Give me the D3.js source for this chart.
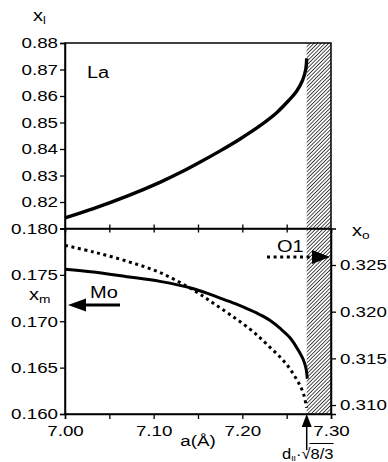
<!DOCTYPE html>
<html>
<head>
<meta charset="utf-8">
<script src="https://cdn.jsdelivr.net/npm/d3@7"></script>
<style>
  html, body { margin: 0; padding: 0; background: #fff; }
  svg { display: block; }
  text { font-family: "Liberation Sans", Arial, sans-serif; fill: #000; }
</style>
</head>
<body>
<svg id="chart" width="388" height="462"></svg>
<script>
(function () {
  'use strict';

  // lattice constant a (Å) and La coordinate x_l (top panel)
  var aLa = [7.000, 7.032, 7.070, 7.107, 7.130, 7.152, 7.175, 7.197, 7.220, 7.239, 7.252, 7.261, 7.268, 7.2715, 7.2726];
  var xLa = [0.8140, 0.8175, 0.8222, 0.8274, 0.8311, 0.8350, 0.8393, 0.8437, 0.8488, 0.8538, 0.8582, 0.8617, 0.8660, 0.8700, 0.8742];

  // Mo coordinate x_m (bottom panel, left axis)
  var aMo = [7.000, 7.032, 7.070, 7.107, 7.145, 7.175, 7.192, 7.209, 7.220, 7.231, 7.243, 7.254, 7.263, 7.269, 7.2718, 7.2733];
  var xMo = [0.1756, 0.1753, 0.1748, 0.1743, 0.1735, 0.1725, 0.1719, 0.1712, 0.1707, 0.1701, 0.1692, 0.1682, 0.1669, 0.1658, 0.1649, 0.1638];

  // O1 coordinate x_o (bottom panel, right axis)
  var aO1 = [7.000, 7.032, 7.070, 7.107, 7.145, 7.169, 7.192, 7.209, 7.220, 7.231, 7.243, 7.252, 7.259, 7.265, 7.269, 7.2726];
  var xO1 = [0.3271, 0.3264, 0.3254, 0.3242, 0.3223, 0.3208, 0.3193, 0.3181, 0.3172, 0.3162, 0.3151, 0.3141, 0.3131, 0.3121, 0.3112, 0.3097];

  var aLimit = 7.2726; // d_II·√(8/3)

  var xTicks = [7.00, 7.05, 7.10, 7.15, 7.20, 7.25, 7.30];
  var laTicks = [0.82, 0.83, 0.84, 0.85, 0.86, 0.87, 0.88];
  var moTicks = [0.160, 0.165, 0.170, 0.175, 0.180];
  var oTicks = [0.310, 0.315, 0.320, 0.325];

  var L = 65, R = 331, T = 43, MID = 228.5, B = 414;
  var SX = 1.25; // the original lettering is horizontally stretched

  var x = d3.scaleLinear().domain([7.0, 7.3]).range([L, R]);
  var yLa = d3.scaleLinear().domain([0.81, 0.88]).range([MID, T]);
  var yMo = d3.scaleLinear().domain([0.160, 0.180]).range([B, MID]);
  var yO = d3.scaleLinear().domain([0.30904, 0.32891]).range([B, MID]);

  var svg = d3.select('#chart');

  function zip(a, b) { return a.map(function (v, i) { return [v, b[i]]; }); }

  function stretchTicks(g, dx) {
    g.selectAll('.tick text')
      .attr('font-size', 15)
      .attr('font-family', '"Liberation Sans", Arial, sans-serif')
      .attr('transform', 'scale(' + SX + ',1)')
      .attr('x', dx / SX);
  }

  function label(px, py, str, size, anchor) {
    return svg.append('text')
      .attr('transform', 'translate(' + px + ',' + py + ') scale(' + SX + ',1)')
      .attr('font-size', size)
      .attr('text-anchor', anchor || 'start')
      .text(str);
  }

  // hatch pattern for the forbidden region
  var defs = svg.append('defs');
  var pat = defs.append('pattern')
    .attr('id', 'hatch')
    .attr('patternUnits', 'userSpaceOnUse')
    .attr('width', 2.6).attr('height', 2.6)
    .attr('patternTransform', 'rotate(45)');
  pat.append('rect').attr('width', 2.6).attr('height', 2.6).attr('fill', '#fff');
  pat.append('line').attr('x1', 0).attr('y1', 0).attr('x2', 0).attr('y2', 2.6)
    .attr('stroke', '#111').attr('stroke-width', 1.5);

  svg.append('rect')
    .attr('x', x(aLimit)).attr('y', T)
    .attr('width', x(7.3) - x(aLimit)).attr('height', B - T)
    .attr('fill', 'url(#hatch)');

  // ── Curves ──────────────────────────────────────────────────────────────────

  var curve = d3.curveCatmullRom.alpha(0.5);
  var lineLa = d3.line().curve(curve).x(function (d) { return x(d[0]); }).y(function (d) { return yLa(d[1]); });
  var lineMo = d3.line().curve(curve).x(function (d) { return x(d[0]); }).y(function (d) { return yMo(d[1]); });
  var lineO = d3.line().curve(curve).x(function (d) { return x(d[0]); }).y(function (d) { return yO(d[1]); });

  svg.append('path').datum(zip(aLa, xLa)).attr('d', lineLa)
    .attr('fill', 'none').attr('stroke', '#000').attr('stroke-width', 3.4);
  svg.append('path').datum(zip(aMo, xMo)).attr('d', lineMo)
    .attr('fill', 'none').attr('stroke', '#000').attr('stroke-width', 3);
  svg.append('path').datum(zip(aO1, xO1)).attr('d', lineO)
    .attr('fill', 'none').attr('stroke', '#000').attr('stroke-width', 3)
    .attr('stroke-dasharray', '3,3.6');

  // ── Frame & axes ────────────────────────────────────────────────────────────

  svg.append('rect')
    .attr('x', L).attr('y', T).attr('width', R - L).attr('height', B - T)
    .attr('fill', 'none').attr('stroke', '#000').attr('stroke-width', 1.5);
  svg.append('line').attr('x1', L).attr('x2', R).attr('y1', MID).attr('y2', MID)
    .attr('stroke', '#000').attr('stroke-width', 1.5);

  var gLa = svg.append('g').attr('transform', 'translate(' + L + ',0)')
    .call(d3.axisLeft(yLa).tickValues(laTicks).tickFormat(d3.format('.2f')).tickSize(5).tickPadding(2));
  stretchTicks(gLa, -7);

  var gMo = svg.append('g').attr('transform', 'translate(' + L + ',0)')
    .call(d3.axisLeft(yMo).tickValues(moTicks).tickFormat(d3.format('.3f')).tickSize(5).tickPadding(2));
  stretchTicks(gMo, -7);

  var gO = svg.append('g').attr('transform', 'translate(' + R + ',0)')
    .call(d3.axisRight(yO).tickValues(oTicks).tickFormat(d3.format('.3f')).tickSize(5).tickPadding(4));
  stretchTicks(gO, 9);

  var gX = svg.append('g').attr('transform', 'translate(0,' + B + ')')
    .call(d3.axisBottom(x).tickValues(xTicks).tickSize(5).tickPadding(3)
      .tickFormat(function (d) { return Math.round(d * 100) % 10 === 0 ? d3.format('.2f')(d) : ''; }));
  stretchTicks(gX, 0);
  gX.selectAll('.tick text').attr('dy', '0.95em');

  var gMid = svg.append('g').attr('transform', 'translate(0,' + MID + ')')
    .call(d3.axisBottom(x).tickValues(xTicks.slice(1, -1)).tickSize(4).tickFormat(''));
  gMid.selectAll('.tick line').attr('y1', -4);

  svg.selectAll('.domain').attr('stroke-width', 1.5);
  svg.selectAll('.tick line').attr('stroke-width', 1.3);

  // ── Labels & arrows ─────────────────────────────────────────────────────────

  var xl = label(33, 21, 'x', 16);
  xl.append('tspan').attr('font-size', 10).attr('dy', 3).text('l');

  var xm = label(29, 300, 'x', 16);
  xm.append('tspan').attr('font-size', 11).attr('dy', 3).text('m');

  var xo = label(352, 236, 'x', 16);
  xo.append('tspan').attr('font-size', 11).attr('dy', 3).text('o');

  label(87, 78, 'La', 16);
  label(90, 298, 'Mo', 16);
  label(277, 252, 'O1', 16);
  label(198, 446, 'a(Å)', 15, 'middle');

  // Mo arrow (points to the left axis)
  svg.append('line').attr('x1', 120).attr('x2', 82).attr('y1', 305).attr('y2', 305)
    .attr('stroke', '#000').attr('stroke-width', 3.2);
  svg.append('path').attr('d', 'M68,305 L86,298.5 L86,311.5 Z').attr('fill', '#000');

  // O1 arrow (points to the right axis)
  svg.append('line').attr('x1', 267).attr('x2', 313).attr('y1', 257).attr('y2', 257)
    .attr('stroke', '#000').attr('stroke-width', 3).attr('stroke-dasharray', '3,3.6');
  svg.append('path').attr('d', 'M330,257 L312,250 L312,264 Z').attr('fill', '#000');

  // limit arrow below the axis
  var xa = x(aLimit);
  svg.append('line').attr('x1', xa).attr('x2', xa).attr('y1', 425).attr('y2', 450)
    .attr('stroke', '#000').attr('stroke-width', 1.5);
  svg.append('path').attr('d', 'M' + xa + ',414 L' + (xa - 5) + ',427 L' + (xa + 5) + ',427 Z')
    .attr('fill', '#000');

  var dl = svg.append('text')
    .attr('transform', 'translate(282,459) scale(1.1,1)')
    .attr('font-size', 15);
  dl.append('tspan').text('d');
  dl.append('tspan').attr('font-size', 8).attr('dy', 2).text('II');
  dl.append('tspan').attr('dy', -2).text('·√');
  dl.append('tspan').text('8/3');
  var n = dl.node();
  var chars = n.getNumberOfChars();
  var x0 = n.getStartPositionOfChar(chars - 3).x;
  var x1 = n.getEndPositionOfChar(chars - 1).x;
  svg.append('line')
    .attr('x1', 282 + (x0 - 1) * 1.1).attr('x2', 282 + x1 * 1.1)
    .attr('y1', 443.5).attr('y2', 443.5)
    .attr('stroke', '#000').attr('stroke-width', 1);
})();
</script>
</body>
</html>
